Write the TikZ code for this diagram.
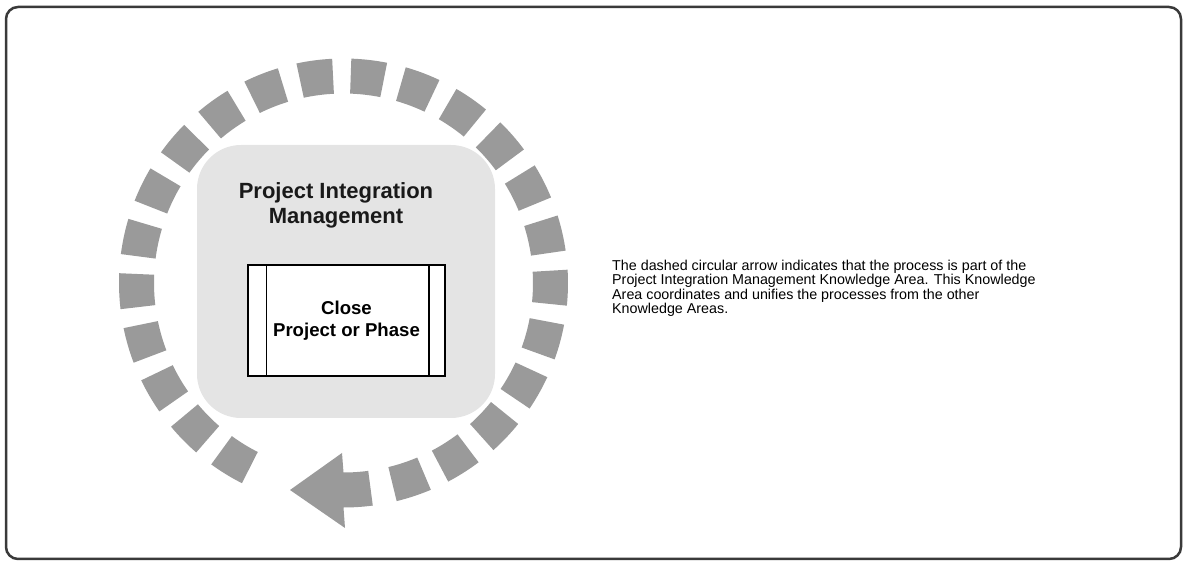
\documentclass[tikz,border=0pt]{standalone}
\usepackage{fontspec}
\setmainfont{Liberation Sans}
\usetikzlibrary{calc,positioning}
\definecolor{dashgray}{HTML}{9A9A9A}
\definecolor{areagray}{HTML}{E4E4E4}
\definecolor{framegray}{HTML}{3A3A3A}

\begin{document}
\begin{tikzpicture}[x=1pt,y=1pt,
    dashseg/.style={fill=dashgray},
    areatitle/.style={align=center,text=black!90,font=\bfseries\fontsize{22}{25}\selectfont},
    procbox/.style={draw,line width=1.5pt,fill=white,minimum width=197pt,minimum height=111pt,
      inner sep=0pt,align=center,font=\bfseries\fontsize{18.6}{22}\selectfont},
    notetext/.style={align=left,inner sep=0pt,font=\fontsize{14.3}{12.3}\selectfont}]
  \useasboundingbox (0,0) rectangle (1184,562);

  % Frame
  \draw[framegray,line width=2.5pt,rounded corners=12pt] (6,3) rectangle (1181,555);

  % Knowledge area
  \coordinate (C) at (343.5,279);
  \fill[areagray,rounded corners=44pt] (197,144) rectangle (495,417);

  % Dashed circular arrow
  \foreach \k in {0,...,22}{
    \pgfmathsetmacro{\a}{238.5-14.1*\k}
    \fill[dashseg] ($(C)+(\a+4.6:189.5)$) arc[start angle=\a+4.6,end angle=\a-4.6,radius=189.5]
      -- ($(C)+(\a-4.6:224.5)$) arc[start angle=\a-4.6,end angle=\a+4.6,radius=224.5] -- cycle;
  }
  \fill[dashseg] ($(C)+(-82.5:189.5)$) arc[start angle=-82.5,end angle=-90,radius=189.5]
    -- (342,109) -- (290,72) -- (345,34)
    -- ($(C)+(-90:224.5)$) arc[start angle=-90,end angle=-82.5,radius=224.5] -- cycle;

  % Labels
  \node[areatitle] (title) at (336,357) {Project Integration\\Management};
  \node[procbox] (proc) at (346.5,241.5) {Close\\Project or Phase};
  \draw[line width=1.5pt] ([xshift=19pt]proc.north west) -- ([xshift=19pt]proc.south west);
  \draw[line width=1.5pt] ([xshift=-17pt]proc.north east) -- ([xshift=-17pt]proc.south east);

  % Note
  \node[notetext,anchor=north west] (note) at (612,302)
    {The dashed circular arrow indicates that the process is part of the\\
     Project Integration Management Knowledge Area. This Knowledge\\
     Area coordinates and unifies the processes from the other\\
     Knowledge Areas.};
\end{tikzpicture}
\end{document}
